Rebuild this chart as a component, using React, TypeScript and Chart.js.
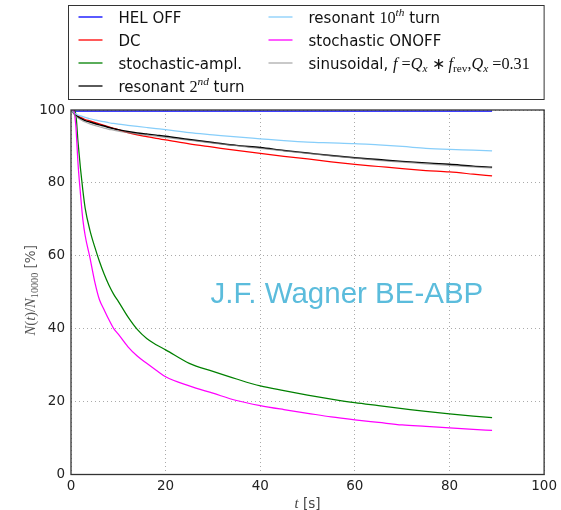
import React, { useEffect, useRef } from "react";
import { Chart, registerables } from "chart.js";

Chart.register(...registerables);

// time axis (s)
const T = [0, 0.5, 1, 1.5, 2, 2.5, 3, 4, 5, 6, 7, 8, 9, 10, 12, 14, 16, 18, 20, 25, 30, 35, 40, 45, 50, 55, 60, 65, 70, 75, 80, 85, 89];

const HEL_OFF = [100, 99.7, 99.7, 99.7, 99.7, 99.7, 99.7, 99.7, 99.7, 99.7, 99.7, 99.7, 99.7, 99.7, 99.7, 99.7, 99.7, 99.7, 99.7, 99.7, 99.7, 99.7, 99.7, 99.7, 99.7, 99.7, 99.7, 99.7, 99.7, 99.7, 99.7, 99.7, 99.7];
const DC = [100, 99.5, 98.8, 98.3, 98.0, 97.7, 97.4, 97.0, 96.6, 96.2, 95.8, 95.4, 95.0, 94.6, 93.8, 93.2, 92.7, 92.2, 91.8, 90.7, 89.8, 88.9, 88.1, 87.3, 86.6, 85.8, 85.1, 84.5, 83.9, 83.4, 83.0, 82.4, 81.9];
const STOCH_AMPL = [100, 100, 99, 91, 84, 78, 73, 67, 62.5, 58.5, 55, 52, 49.5, 47.5, 43.3, 39.8, 37.3, 35.6, 34.2, 30.5, 28.3, 26.2, 24.3, 23.0, 21.8, 20.7, 19.7, 18.9, 18.1, 17.3, 16.6, 16.0, 15.6];
const RES_2ND = [100, 99.3, 98.6, 98.1, 97.7, 97.4, 97.1, 96.7, 96.3, 95.9, 95.6, 95.2, 94.9, 94.6, 94.1, 93.7, 93.4, 93.1, 92.8, 91.9, 91.1, 90.3, 89.7, 88.9, 88.2, 87.5, 86.9, 86.4, 85.9, 85.5, 85.1, 84.6, 84.3];
const RES_10TH = [100, 99.4, 98.9, 98.6, 98.4, 98.2, 98.0, 97.6, 97.3, 97.0, 96.8, 96.5, 96.3, 96.1, 95.8, 95.5, 95.2, 94.9, 94.6, 93.8, 93.2, 92.6, 92.1, 91.6, 91.2, 91.0, 90.8, 90.4, 90.0, 89.5, 89.2, 89.0, 88.8];
const STOCH_ONOFF = [100, 100, 96, 85, 77, 70, 65.5, 59.5, 53, 48, 45.2, 42.5, 40.1, 38.5, 35.1, 32.5, 30.5, 28.6, 26.8, 24.3, 22.3, 20.3, 18.9, 17.8, 16.8, 15.8, 15.0, 14.3, 13.6, 13.2, 12.8, 12.4, 12.1];
const SINUSOIDAL = [100, 99.1, 98.3, 97.8, 97.4, 97.0, 96.7, 96.2, 95.8, 95.4, 95.0, 94.7, 94.5, 94.2, 93.8, 93.4, 93.1, 92.8, 92.5, 91.7, 90.9, 90.2, 89.5, 88.8, 88.1, 87.4, 86.8, 86.2, 85.7, 85.2, 84.8, 84.4, 84.1];

const X_TICKS = [0, 20, 40, 60, 80, 100];
const Y_TICKS = [0, 20, 40, 60, 80, 100];

const LABELS = [
  "HEL OFF",
  "DC",
  "stochastic-ampl.",
  "resonant 2nd turn",
  "resonant 10th turn",
  "stochastic ONOFF",
  "sinusoidal, f=Q_x*f_rev,Q_x=0.31",
];
const COLORS = ["#0000ff", "#ff0000", "#008000", "#000000", "#87cefa", "#ff00ff", "rgba(128,128,128,0.65)"];
const SERIES = [HEL_OFF, DC, STOCH_AMPL, RES_2ND, RES_10TH, STOCH_ONOFF, SINUSOIDAL];

const WATERMARK = "J.F. Wagner BE-ABP";

type Seg = { t: string; f: "sans" | "serif" | "serifI"; sup?: boolean; sub?: boolean };

const RICH: Seg[][] = [
  [{ t: "HEL OFF", f: "sans" }],
  [{ t: "DC", f: "sans" }],
  [{ t: "stochastic-ampl.", f: "sans" }],
  [{ t: "resonant ", f: "sans" }, { t: "2", f: "serif" }, { t: "nd", f: "serifI", sup: true }, { t: " turn", f: "sans" }],
  [{ t: "resonant ", f: "sans" }, { t: "10", f: "serif" }, { t: "th", f: "serifI", sup: true }, { t: " turn", f: "sans" }],
  [{ t: "stochastic ONOFF", f: "sans" }],
  [
    { t: "sinusoidal, ", f: "sans" },
    { t: "f", f: "serifI" },
    { t: " =", f: "serif" },
    { t: "Q", f: "serifI" },
    { t: "x", f: "serifI", sub: true },
    { t: " \u2217 ", f: "serif" },
    { t: "f", f: "serifI" },
    { t: "rev", f: "serif", sub: true },
    { t: ",", f: "serif" },
    { t: "Q", f: "serifI" },
    { t: "x", f: "serifI", sub: true },
    { t: " =", f: "serif" },
    { t: "0.31", f: "serif" },
  ],
];

const Y_TITLE: Seg[] = [
  { t: "N", f: "serifI" },
  { t: "(", f: "serif" },
  { t: "t", f: "serifI" },
  { t: ")", f: "serif" },
  { t: "/", f: "serif" },
  { t: "N", f: "serifI" },
  { t: "10000", f: "serif", sub: true },
  { t: " [%]", f: "sans" },
];
const X_TITLE: Seg[] = [
  { t: "t", f: "serifI" },
  { t: " [s]", f: "sans" },
];

function fontFor(s: Seg, size: number) {
  const base = s.f === "sans" ? size : size * 1.08;
  const sz = s.sup || s.sub ? base * 0.7 : base;
  if (s.f === "sans") return `${sz}px "DejaVu Sans"`;
  if (s.f === "serifI") return `italic ${sz}px "Liberation Serif"`;
  return `${sz}px "Liberation Serif"`;
}

function richWidth(ctx: CanvasRenderingContext2D, segs: Seg[], size: number) {
  let w = 0;
  for (const s of segs) {
    ctx.font = fontFor(s, size);
    w += ctx.measureText(s.t).width;
  }
  return w;
}

function drawRich(ctx: CanvasRenderingContext2D, segs: Seg[], x: number, y: number, size: number) {
  ctx.textBaseline = "alphabetic";
  ctx.textAlign = "left";
  for (const s of segs) {
    ctx.font = fontFor(s, size);
    const dy = s.sup ? -size * 0.42 : s.sub ? size * 0.25 : 0;
    ctx.fillText(s.t, x, y + dy);
    x += ctx.measureText(s.t).width;
  }
}

const decorPlugin = {
  id: "decor",
  afterDatasetsDraw(chart: any) {
    const ctx: CanvasRenderingContext2D = chart.ctx;
    const { left, right, top, bottom } = chart.chartArea;
    const xs = chart.scales.x;
    const ys = chart.scales.y;
    ctx.save();
    // watermark
    ctx.fillStyle = "#5bbcdc";
    ctx.font = '29.5px "Liberation Sans"';
    ctx.textAlign = "left";
    ctx.textBaseline = "alphabetic";
    ctx.fillText(WATERMARK, xs.getPixelForValue(29.5), ys.getPixelForValue(47));
    // frame
    ctx.strokeStyle = "#333";
    ctx.lineWidth = 1.3;
    ctx.strokeRect(left, top, right - left, bottom - top);
    ctx.restore();
  },
  afterDraw(chart: any) {
    const ctx: CanvasRenderingContext2D = chart.ctx;
    const { left, right, top, bottom } = chart.chartArea;
    ctx.save();
    // legend box
    const bx = left - 2.5, by = 5.5, bw = right - left + 2.5, bh = 94;
    ctx.fillStyle = "#fff";
    ctx.fillRect(bx, by, bw, bh);
    ctx.strokeStyle = "#333";
    ctx.lineWidth = 1;
    ctx.strokeRect(bx, by, bw, bh);
    const rows = [17, 40, 63, 86];
    const cols = [bx + 10, bx + 200];
    chart.data.datasets.forEach((ds: any, i: number) => {
      const c = i < 4 ? 0 : 1;
      const r = i < 4 ? i : i - 4;
      const x0 = cols[c];
      const yc = rows[r];
      ctx.strokeStyle = ds.borderColor;
      ctx.lineWidth = 1.3;
      ctx.beginPath();
      ctx.moveTo(x0, yc);
      ctx.lineTo(x0 + 24, yc);
      ctx.stroke();
      ctx.fillStyle = "#111";
      drawRich(ctx, RICH[i], x0 + 40, yc + 5.5, 15);
    });
    // axis titles
    ctx.fillStyle = "#444";
    const xw = richWidth(ctx, X_TITLE, 13.5);
    drawRich(ctx, X_TITLE, (left + right) / 2 - xw / 2, 508, 13.5);
    ctx.fillStyle = "#555";
    const yw = richWidth(ctx, Y_TITLE, 13.5);
    ctx.translate(35, (top + bottom) / 2 - 2);
    ctx.rotate(-Math.PI / 2);
    drawRich(ctx, Y_TITLE, -yw / 2, 0, 13.5);
    ctx.restore();
  },
};

export default function App() {
  const ref = useRef<HTMLCanvasElement | null>(null);
  useEffect(() => {
    if (!ref.current) return;
    const tickFont = { family: "DejaVu Sans", size: 13.5 };
    const chart = new Chart(ref.current, {
      type: "line",
      data: {
        datasets: SERIES.map((vals, i) => ({
          label: LABELS[i],
          data: T.map((t, j) => ({ x: t, y: vals[j] })),
          borderColor: COLORS[i],
          borderWidth: i === 3 ? 1.4 : 1.25,
          pointRadius: 0,
          fill: false,
          cubicInterpolationMode: "monotone",
          order: 10 - i,
        })),
      },
      options: {
        responsive: false,
        animation: false,
        layout: { padding: { left: 0, right: 16, top: 110, bottom: 0 } },
        plugins: { legend: { display: false }, tooltip: { enabled: false } },
        scales: {
          x: {
            type: "linear",
            min: 0,
            max: 100,
            afterFit: (s: any) => {
              s.height = 35.5;
            },
            afterBuildTicks: (s: any) => {
              s.ticks = X_TICKS.map((v) => ({ value: v }));
            },
            ticks: { font: tickFont, color: "#222", padding: 4, maxRotation: 0 },
            grid: { color: "#aaaaaa", lineWidth: 1, drawTicks: false },
            border: { display: false, dash: [1, 3] },
          },
          y: {
            type: "linear",
            min: 0,
            max: 100,
            afterFit: (s: any) => {
              s.width = 71;
            },
            afterBuildTicks: (s: any) => {
              s.ticks = Y_TICKS.map((v) => ({ value: v }));
            },
            ticks: { font: tickFont, color: "#222", padding: 6 },
            grid: { color: "#aaaaaa", lineWidth: 1, drawTicks: false },
            border: { display: false, dash: [1, 3] },
          },
        },
      },
      plugins: [decorPlugin],
    } as any);
    return () => chart.destroy();
  }, []);
  return (
    <div style={{ position: "absolute", left: 0, top: 0, width: 561, height: 510, background: "#fff" }}>
      <canvas ref={ref} width={561} height={510} style={{ display: "block" }} />
    </div>
  );
}
